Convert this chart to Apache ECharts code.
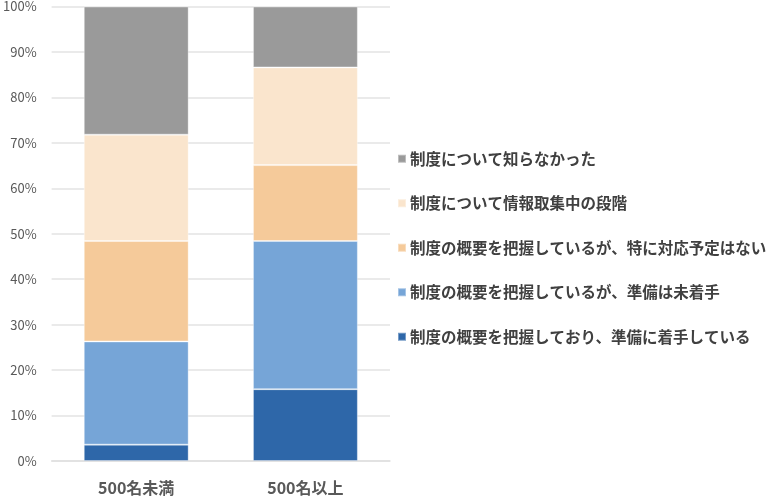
<!DOCTYPE html>
<html>
<head>
<meta charset="utf-8">
<script src="https://cdn.jsdelivr.net/npm/echarts@6/dist/echarts.min.js"></script>
<style>
html, body { margin: 0; padding: 0; background: #fff; }
#main { width: 780px; height: 496px; }
</style>
</head>
<body>
<div id="main"></div>
<script>
// データ
var categories = ['500名未満', '500名以上'];
var seriesNames = [
    '制度の概要を把握しており、準備に着手している',
    '制度の概要を把握しているが、準備は未着手',
    '制度の概要を把握しているが、特に対応予定はない',
    '制度について情報取集中の段階',
    '制度について知らなかった'
];
var startedData   = [3.6, 15.8];
var notStarted    = [22.7, 32.6];
var noPlanData    = [22.1, 16.7];
var collecting    = [23.4, 21.5];
var didNotKnow    = [28.2, 13.4];
var yTicks = [0, 10, 20, 30, 40, 50, 60, 70, 80, 90, 100];

var colors = ['#2e67a9', '#76a5d7', '#f5ca9a', '#fae5cd', '#9a9a9a'];
var values = [startedData, notStarted, noPlanData, collecting, didNotKnow];

var font = "'Noto Sans CJK JP', 'Noto Sans', sans-serif";

var myChart = echarts.init(document.getElementById('main'));

var series = [];
for (var i = 0; i < seriesNames.length; i++) {
    series.push({
        name: seriesNames[i],
        type: 'bar',
        stack: 'total',
        barWidth: '62%',
        data: values[i],
        itemStyle: {
            color: colors[i],
            borderColor: 'rgba(255,255,255,0.35)',
            borderWidth: 1
        }
    });
}

var option = {
    animation: false,
    textStyle: { fontFamily: font },
    grid: {
        left: 47,
        right: 390,
        top: 5,
        bottom: 33
    },
    legend: {
        orient: 'vertical',
        left: 392,
        top: 146,
        itemWidth: 8,
        itemHeight: 8,
        itemGap: 29,
        icon: 'rect',
        data: seriesNames.slice().reverse(),
        textStyle: {
            fontFamily: font,
            fontSize: 15.5,
            fontWeight: 'bold',
            color: '#404040',
            padding: [0, 0, 0, -1]
        }
    },
    xAxis: {
        type: 'category',
        data: categories,
        axisLine: { show: true, lineStyle: { color: '#e0e0e0', width: 1.5 } },
        axisTick: { show: false },
        axisLabel: {
            fontFamily: font,
            fontSize: 16,
            fontWeight: 'bold',
            color: '#595959',
            margin: 19
        }
    },
    yAxis: {
        type: 'value',
        min: yTicks[0],
        max: yTicks[yTicks.length - 1],
        interval: 10,
        axisLine: { show: false },
        axisTick: { show: false },
        splitLine: { lineStyle: { color: '#e3e3e3', width: 1.5 } },
        axisLabel: {
            fontFamily: font,
            fontSize: 13,
            color: '#595959',
            margin: 15,
            formatter: '{value}%'
        }
    },
    series: series
};

myChart.setOption(option);
</script>
</body>
</html>
